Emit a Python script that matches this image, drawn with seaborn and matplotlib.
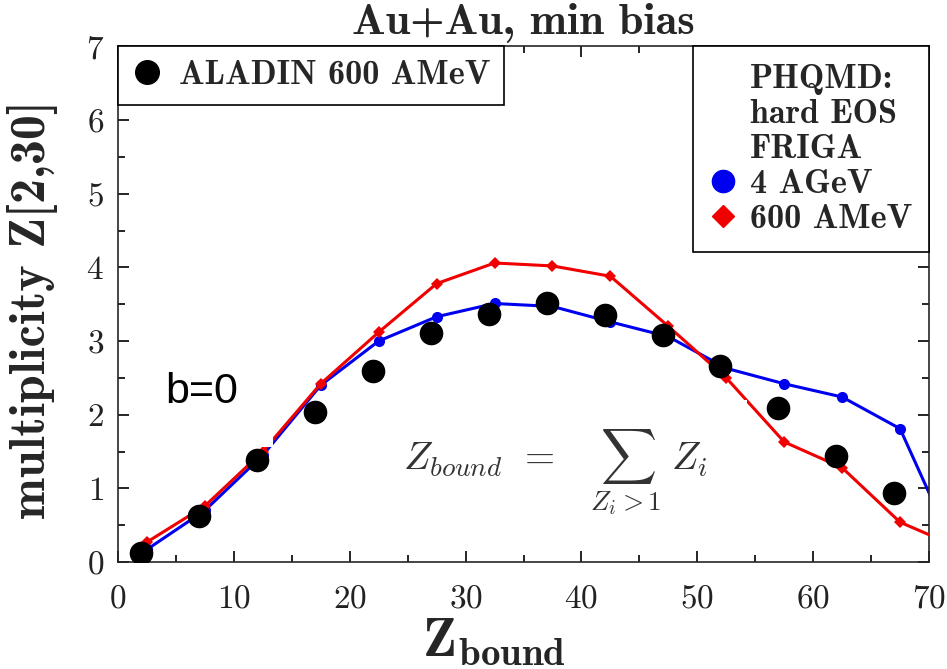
import numpy as np
import pandas as pd
import seaborn as sns
import matplotlib.pyplot as plt
from matplotlib.lines import Line2D
from matplotlib.patches import Rectangle
from matplotlib.ticker import MultipleLocator

# PHQMD (hard EOS, FRIGA) fragment multiplicity vs Z_bound
z_sim = [2.5, 7.5, 12.5, 17.5, 22.5, 27.5, 32.5, 37.5, 42.5, 47.5, 52.5, 57.5, 62.5, 67.5, 72.5]
mult_4agev = [0.17, 0.70, 1.45, 2.40, 3.00, 3.33, 3.51, 3.47, 3.26, 3.06, 2.63, 2.42, 2.24, 1.81, 0.07]
mult_600amev = [0.27, 0.76, 1.50, 2.42, 3.12, 3.78, 4.06, 4.02, 3.88, 3.20, 2.50, 1.63, 1.28, 0.54, 0.20]

# ALADIN data, 600 AMeV
z_aladin = [2, 7, 12, 17, 22, 27, 32, 37, 42, 47, 52, 57, 62, 67]
mult_aladin = [0.12, 0.63, 1.39, 2.03, 2.59, 3.11, 3.37, 3.51, 3.36, 3.08, 2.66, 2.09, 1.44, 0.93]

x_ticks = [0, 10, 20, 30, 40, 50, 60, 70]
y_ticks = [0, 1, 2, 3, 4, 5, 6, 7]

sns.set_style("ticks")
plt.rcParams.update({
    "font.family": ["cmr10", "DejaVu Serif"],
    "mathtext.fontset": "cm",
    "axes.formatter.use_mathtext": True,
    "axes.unicode_minus": False,
    "axes.linewidth": 1.2,
})

fig = plt.figure(figsize=(9.47, 6.69), dpi=100)
ax = fig.add_axes([0.1246, 0.16, 0.8564, 0.7705])

sns.lineplot(x=z_sim, y=mult_4agev, color="#0000f0", marker="o", markersize=8,
             markeredgewidth=0, linewidth=2.2, ax=ax, zorder=2)
sns.lineplot(x=z_sim, y=mult_600amev, color="#f00000", marker="D", markersize=6,
             markeredgewidth=0, linewidth=2.2, ax=ax, zorder=3)
sns.scatterplot(x=z_aladin, y=mult_aladin, color="black", s=17 ** 2,
                linewidth=0, ax=ax, zorder=5)

# white label backgrounds
ax.add_patch(Rectangle((2.8, 1.56), 10.55, 1.34, facecolor="white",
                       edgecolor="none", zorder=4))
ax.add_patch(Rectangle((23.7, 0.43), 30.6, 1.77, facecolor="white",
                       edgecolor="none", zorder=4))

ax.text(4.06, 2.16, "b=0", family="Liberation Sans", fontsize=31,
        va="baseline", ha="left", color="black", zorder=6)
ax.text(24.6, 1.25, r"$Z_{bound}\;\,=\;\;\;\sum_{Z_i>1}\;Z_i$", fontsize=28,
        va="baseline", ha="left", color="#333333", zorder=6)

ax.set_xlim(0, 70)
ax.set_ylim(0, 7)
ax.set_xticks(x_ticks)
ax.set_yticks(y_ticks)
ax.xaxis.set_minor_locator(MultipleLocator(5))
ax.yaxis.set_minor_locator(MultipleLocator(0.5))
ax.tick_params(which="both", direction="in", top=True, right=True, width=1.2,
               colors="black", labelcolor="#222222", labelsize=24)
ax.tick_params(which="major", length=8)
ax.tick_params(which="minor", length=5)
ax.tick_params(axis="x", pad=16)
ax.tick_params(axis="y", pad=10)

ax.set_title("Au+Au, min bias", family="cmb10", fontsize=32, pad=9)
ax.set_ylabel("multiplicity Z[2,30]", family="cmb10", fontsize=36)
ax.yaxis.set_label_coords(-0.074, 0.489)
ax.set_xlabel(r"$\mathbf{Z}_{\mathbf{bound}}$", fontsize=40)
ax.xaxis.set_label_coords(0.463, -0.105)

leg_prop = {"family": "cmb10", "size": 24.5}
leg1 = ax.legend(
    handles=[Line2D([], [], ls="none", marker="o", ms=17, color="black")],
    labels=["ALADIN 600 AMeV"], loc="upper left", bbox_to_anchor=(0, 1),
    borderaxespad=0, prop=leg_prop, fancybox=False, framealpha=1,
    edgecolor="black", borderpad=0.4, handlelength=0.88, handletextpad=0.5)
leg1.get_frame().set_linewidth(1.2)
leg1.set_zorder(10)
ax.add_artist(leg1)

blank = Line2D([], [], ls="none", marker=None)
leg2 = ax.legend(
    handles=[blank, blank, blank,
             Line2D([], [], ls="none", marker="o", ms=16, color="#0000f0"),
             Line2D([], [], ls="none", marker="D", ms=11, color="#f00000")],
    labels=["PHQMD:", "hard EOS", "FRIGA", "4 AGeV", "600 AMeV"],
    loc="upper right", bbox_to_anchor=(1, 1), borderaxespad=0, prop=leg_prop,
    fancybox=False, framealpha=1, edgecolor="black", borderpad=0.5,
    labelspacing=0.12, handlelength=0.75, handletextpad=0.42)
leg2.get_frame().set_linewidth(1.2)
leg2.set_zorder(10)

fig.savefig("out.png", dpi=100, facecolor="white")
